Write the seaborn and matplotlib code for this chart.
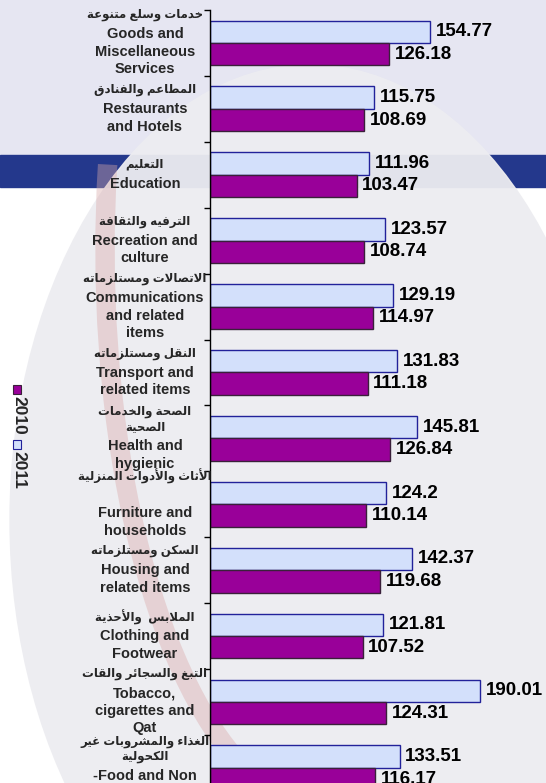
import numpy as np
import pandas as pd
import seaborn as sns
import matplotlib.pyplot as plt
from matplotlib.patches import Rectangle, Ellipse, Arc

# data (top to bottom as in the chart)
labels_en = [
    ["Goods and", "Miscellaneous", "Services"],
    ["Restaurants", "and Hotels"],
    ["Education"],
    ["Recreation and", "culture"],
    ["Communications", "and related", "items"],
    ["Transport and", "related items"],
    ["Health and", "hygienic"],
    ["", "Furniture and", "households"],
    ["Housing and", "related items"],
    ["Clothing and", "Footwear"],
    ["Tobacco,", "cigarettes and", "Qat"],
    ["-Food and Non", "Alcoholic Beverages"],
]
labels_ar = [
    ["خدمات وسلع متنوعة"],
    ["المطاعم والفنادق"],
    ["التعليم"],
    ["الترفيه والثقافة"],
    ["الاتصالات ومستلزماته"],
    ["النقل ومستلزماته"],
    ["الصحة والخدمات", "الصحية"],
    ["الأثاث والأدوات المنزلية"],
    ["السكن ومستلزماته"],
    ["الملابس  والأحذية"],
    ["التبغ والسجائر والقات"],
    ["الغذاء والمشروبات غير", "الكحولية"],
]
values_2011 = [154.77, 115.75, 111.96, 123.57, 129.19, 131.83, 145.81, 124.2, 142.37, 121.81, 190.01, 133.51]
values_2010 = [126.18, 108.69, 103.47, 108.74, 114.97, 111.18, 126.84, 110.14, 119.68, 107.52, 124.31, 116.17]
years = ["2011", "2010"]
colors = {"2011": "#D3E0FB", "2010": "#990099"}
edges = {"2011": "#22229A", "2010": "#3A203A"}

# simple arabic shaping (matplotlib has no shaping / bidi)
DUAL = {'ب': 0xFE8F, 'ت': 0xFE95, 'ث': 0xFE99, 'ج': 0xFE9D, 'ح': 0xFEA1, 'خ': 0xFEA5,
        'س': 0xFEB1, 'ش': 0xFEB5, 'ص': 0xFEB9, 'ض': 0xFEBD, 'ط': 0xFEC1, 'ظ': 0xFEC5,
        'ع': 0xFEC9, 'غ': 0xFECD, 'ف': 0xFED1, 'ق': 0xFED5, 'ك': 0xFED9, 'ل': 0xFEDD,
        'م': 0xFEE1, 'ن': 0xFEE5, 'ه': 0xFEE9, 'ي': 0xFEF1, 'ئ': 0xFE89}
RIGHT = {'آ': 0xFE81, 'أ': 0xFE83, 'ؤ': 0xFE85, 'إ': 0xFE87, 'ا': 0xFE8D, 'ة': 0xFE93,
         'د': 0xFEA9, 'ذ': 0xFEAB, 'ر': 0xFEAD, 'ز': 0xFEAF, 'و': 0xFEED, 'ى': 0xFEEF}
LAMALEF = {'آ': 0xFEF5, 'أ': 0xFEF7, 'إ': 0xFEF9, 'ا': 0xFEFB}


def shape(s):
    toks = []
    i = 0
    while i < len(s):
        c = s[i]
        if c == 'ل' and i + 1 < len(s) and s[i + 1] in LAMALEF:
            toks.append(('R', LAMALEF[s[i + 1]]))
            i += 2
            continue
        if c in DUAL:
            toks.append(('D', DUAL[c]))
        elif c in RIGHT:
            toks.append(('R', RIGHT[c]))
        else:
            toks.append(('N', c))
        i += 1
    out = []
    for k, (t, v) in enumerate(toks):
        if t == 'N':
            out.append(v)
            continue
        prev = toks[k - 1][0] if k > 0 else 'N'
        nxt = toks[k + 1][0] if k + 1 < len(toks) else 'N'
        jp = prev == 'D'
        jn = t == 'D' and nxt in ('D', 'R')
        off = 3 if (jp and jn) else 1 if jp else 2 if jn else 0
        out.append(chr(v + off))
    return ''.join(reversed(out))


cats = [" ".join(e) for e in labels_en]
df = pd.DataFrame({
    "category": cats * 2,
    "year": ["2011"] * len(cats) + ["2010"] * len(cats),
    "value": values_2011 + values_2010,
})

sns.set_style("ticks")
plt.rcParams['font.family'] = ['Liberation Sans', 'DejaVu Sans']
plt.rcParams['font.weight'] = 'bold'

W, H = 546, 783
fig = plt.figure(figsize=(W / 100, H / 100), dpi=100)
fig.patch.set_facecolor("white")


def fx(px): return px / W
def fy(py): return 1 - py / H


# background decoration
fig.add_artist(Rectangle((0, fy(155)), 1, 155 / H, transform=fig.transFigure,
                         color="#E6E6F2", zorder=0))
fig.add_artist(Rectangle((0, fy(187)), 1, 32 / H, transform=fig.transFigure,
                         color="#24388C", zorder=0))
fig.add_artist(Ellipse((fx(310), fy(520)), 600 / W, 910 / H, transform=fig.transFigure,
                       color="#EDEDF1", alpha=0.95, zorder=0.5))
fig.add_artist(Arc((fx(330), fy(250)), 450 / W, 1120 / H, transform=fig.transFigure,
                   theta1=165, theta2=255, color="#D9A9A9", alpha=0.4, lw=14, zorder=0.6))

band = 65.9
ax = fig.add_axes([209.5 / W, fy(10 + 12 * band), 336 / W, 12 * band / H])
ax.set_zorder(2)
ax.patch.set_visible(False)

sns.barplot(data=df, x="value", y="category", hue="year", hue_order=years,
            palette=colors, orient="h", width=0.68, saturation=1, legend=False, ax=ax)

for cont, yr, vals in zip(ax.containers, years, [values_2011, values_2010]):
    for p in cont:
        p.set_edgecolor(edges[yr])
        p.set_linewidth(1.0)
    ax.bar_label(cont, labels=[f"{v:g}" for v in vals], padding=4,
                 fontsize=13.5, fontweight="bold", color="black")

ax.set_xlim(0, 236)
ax.set_ylim(len(cats) - 0.5, -0.5)
ax.set_yticks(np.arange(-0.5, len(cats), 1))
ax.set_yticklabels([])
ax.tick_params(axis="y", direction="out", length=4.5, width=1, color="black")
ax.set_xticks([])
ax.set_xlabel("")
ax.set_ylabel("")
for s in ["top", "right", "bottom"]:
    ax.spines[s].set_visible(False)
ax.spines["left"].set_color("black")
ax.spines["left"].set_linewidth(1)

# category labels: arabic lines then english lines, centred on each band
AR_H, EN_H, GAP = 15 * 0.72, 17.5 * 0.72, 3 * 0.72
for i in range(len(cats)):
    lines = [(shape(t), 8.5, AR_H) for t in labels_ar[i]] + [(t, 10.5, EN_H) for t in labels_en[i]]
    total = sum(h for _, _, h in lines) + GAP
    top = total / 2
    for k, (t, fs, h) in enumerate(lines):
        if k == len(labels_ar[i]):
            top -= GAP
        dy = top - h / 2
        top -= h
        ax.annotate(t, xy=(0, i), xycoords=ax.get_yaxis_transform(),
                    xytext=(-46.5, dy), textcoords="offset points",
                    ha="center", va="center", fontsize=fs, fontweight="bold",
                    annotation_clip=False)

# rotated legend on the left
ypos = 385
for yr in ["2010", "2011"]:
    fig.add_artist(Rectangle((fx(13), fy(ypos + 9)), 8 / W, 9 / H, transform=fig.transFigure,
                             facecolor=colors[yr], edgecolor=edges[yr], lw=0.8, zorder=3))
    fig.text(fx(18.5), fy(ypos + 30), yr, rotation=270, ha="center", va="center",
             fontsize=12.5, fontweight="bold", zorder=3)
    ypos += 55

fig.savefig("out.png", dpi=100)
